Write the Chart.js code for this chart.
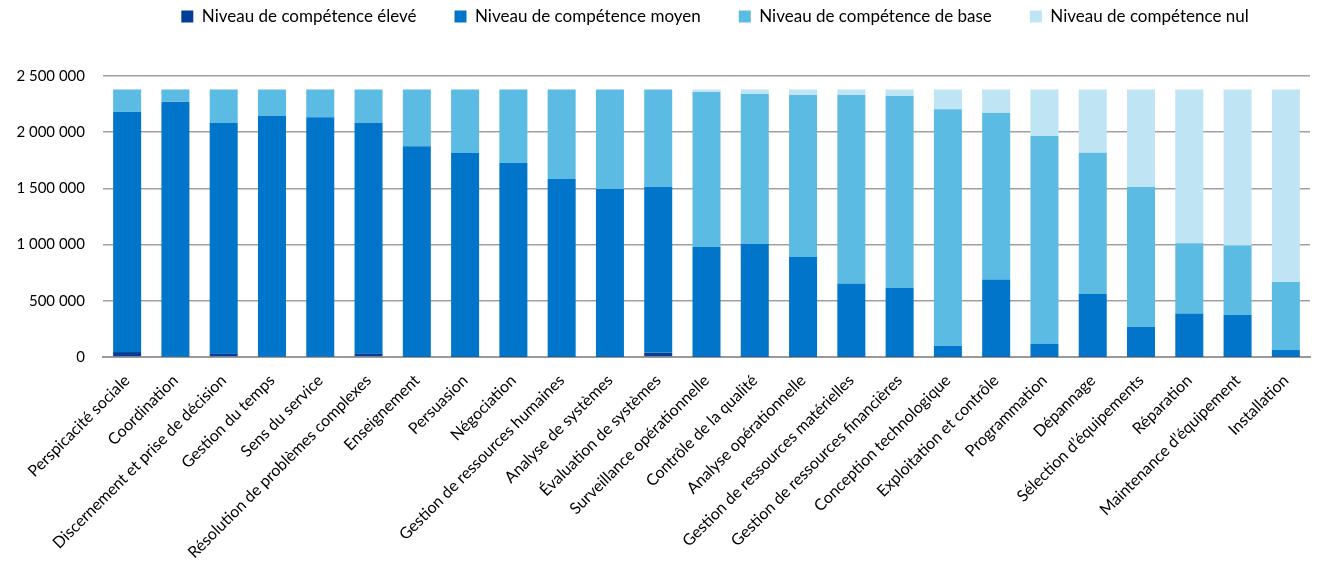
<!DOCTYPE html>
<html>
<head>
<meta charset="utf-8">
<script src="https://cdn.jsdelivr.net/npm/chart.js@4.4.1/dist/chart.umd.min.js"></script>
<style>
  html, body { margin: 0; padding: 0; background: #fff; }
  #wrap { width: 1317px; height: 563px; position: relative; }
</style>
</head>
<body>
<div id="wrap"><canvas id="c"></canvas></div>
<script>
const categories = [
  'Perspicacité sociale', 'Coordination', 'Discernement et prise de décision', 'Gestion du temps',
  'Sens du service', 'Résolution de problèmes complexes', 'Enseignement', 'Persuasion', 'Négociation',
  'Gestion de ressources humaines', 'Analyse de systèmes', 'Évaluation de systèmes',
  'Surveillance opérationnelle', 'Contrôle de la qualité', 'Analyse opérationnelle',
  'Gestion de ressources matérielles', 'Gestion de ressources financières', 'Conception technologique',
  'Exploitation et contrôle', 'Programmation', 'Dépannage', 'Sélection d\u2019équipements',
  'Réparation', 'Maintenance d\u2019équipement', 'Installation'
];

const eleve = [44000, 4000, 30000, 4000, 4000, 30000, 3000, 3000, 3000, 3000, 3000, 39000,
  3000, 3000, 3000, 3000, 3000, 3000, 3000, 3000, 3000, 3000, 3000, 3000, 3000];
const moyen = [2136000, 2268000, 2055000, 2140000, 2129000, 2055000, 1872000, 1812000, 1723000,
  1581000, 1492000, 1473000, 976000, 1002000, 887000, 650000, 614000, 95000, 686000, 113000,
  558000, 264000, 383000, 371000, 59000];
const base = [200000, 108000, 295000, 236000, 247000, 295000, 505000, 565000, 654000, 796000,
  885000, 868000, 1379000, 1335000, 1441000, 1678000, 1705000, 2106000, 1482000, 1850000,
  1257000, 1245000, 626000, 617000, 605000];
const nul = [0, 0, 0, 0, 0, 0, 0, 0, 0, 0, 0, 0, 22000, 40000, 49000, 49000, 58000, 176000,
  209000, 414000, 562000, 868000, 1368000, 1389000, 1713000];

const seriesNames = ['Niveau de compétence élevé', 'Niveau de compétence moyen',
  'Niveau de compétence de base', 'Niveau de compétence nul'];
const COLORS = ['#023d96', '#0075c9', '#5cbbe3', '#bfe4f3'];

const FONT = 'Lato, "Open Sans", sans-serif';
const fmt = v => String(v).replace(/\B(?=(\d{3})+(?!\d))/g, ' ');

const mk = (i, data) => ({
  label: seriesNames[i], data, backgroundColor: COLORS[i],
  borderWidth: 0, barPercentage: 0.58, categoryPercentage: 1, stack: 's'
});

// legend sits higher and a bit right of centre in the original, chart area starts at y=76
const legendTweak = {
  id: 'legendTweak',
  afterInit(chart) {
    const lg = chart.legend;
    const fit = lg.fit;
    lg.fit = function () { fit.call(this); this.height = 76; };
    const draw = lg.draw;
    lg.draw = function () {
      const ctx = this.ctx;
      ctx.save(); ctx.translate(60, -30); draw.call(this); ctx.restore();
    };
  }
};

new Chart(document.getElementById('c'), {
  type: 'bar',
  data: {
    labels: categories,
    datasets: [mk(0, eleve), mk(1, moyen), mk(2, base), mk(3, nul)]
  },
  options: {
    responsive: true, maintainAspectRatio: false, animation: false,
    layout: { padding: { left: 0, right: 7, top: 0, bottom: 0 } },
    plugins: {
      tooltip: { enabled: false },
      legend: {
        position: 'top',
        labels: {
          color: '#000', boxWidth: 12, boxHeight: 12, padding: 38,
          font: { family: FONT, size: 17 }
        }
      }
    },
    scales: {
      x: {
        stacked: true,
        grid: { display: false, drawTicks: false },
        border: { color: '#999', width: 2 },
        ticks: { color: '#000', font: { family: FONT, size: 16 }, minRotation: 45, maxRotation: 45, autoSkip: false, padding: 14 },
        afterFit: s => { s.height = 206; }
      },
      y: {
        stacked: true, min: 0, max: 2500000,
        grid: { color: '#a0a0a0', lineWidth: 1.5, drawTicks: false },
        border: { display: false },
        ticks: { stepSize: 500000, color: '#000', font: { family: FONT, size: 15 }, padding: 18, callback: v => fmt(v) },
        afterFit: s => { s.width = 103; }
      }
    }
  },
  plugins: [legendTweak]
});
</script>
</body>
</html>
